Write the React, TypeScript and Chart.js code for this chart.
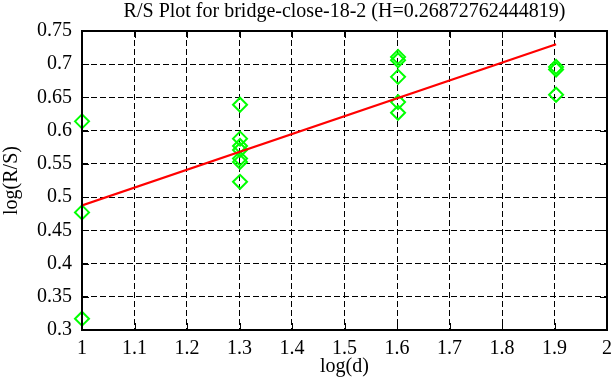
import React, { useEffect, useRef } from "react";
import { Chart, registerables } from "chart.js";

Chart.register(...registerables);

const titleText = "R/S Plot for bridge-close-18-2 (H=0.26872762444819)";
const xAxisLabel = "log(d)";
const yAxisLabel = "log(R/S)";

// log10(d) for d = 10, 20, 40, 80 and the matching log(R/S) samples
const pointsX = [
  1, 1, 1,
  1.301, 1.301, 1.301, 1.301, 1.301, 1.301, 1.301,
  1.602, 1.602, 1.602, 1.602, 1.602,
  1.903, 1.903, 1.903,
];
const pointsY = [
  0.614, 0.477, 0.317,
  0.639, 0.588, 0.577, 0.571, 0.558, 0.553, 0.523,
  0.711, 0.706, 0.681, 0.643, 0.627,
  0.696, 0.692, 0.654,
];

// fitted line endpoints
const fitX = [1, 1.903];
const fitY = [0.4875, 0.7301];

const xTicks = [1, 1.1, 1.2, 1.3, 1.4, 1.5, 1.6, 1.7, 1.8, 1.9, 2];
const yTicks = [0.3, 0.35, 0.4, 0.45, 0.5, 0.55, 0.6, 0.65, 0.7, 0.75];

const FONT = "'Liberation Serif', 'Times New Roman', serif";

const framePlugin = {
  id: "frame",
  afterDraw(chart: any) {
    const { ctx, chartArea } = chart;
    const { left, right, top, bottom } = chartArea;
    const xs = chart.scales.x;
    const ys = chart.scales.y;
    const tl = 7;
    ctx.save();
    ctx.strokeStyle = "#000";
    ctx.lineWidth = 1;
    ctx.setLineDash([]);
    ctx.beginPath();
    for (const v of xTicks) {
      const px = Math.round(xs.getPixelForValue(v)) + 0.5;
      ctx.moveTo(px, bottom);
      ctx.lineTo(px, bottom - tl);
      ctx.moveTo(px, top);
      ctx.lineTo(px, top + tl);
    }
    for (const v of yTicks) {
      const py = Math.round(ys.getPixelForValue(v)) + 0.5;
      ctx.moveTo(left, py);
      ctx.lineTo(left + tl, py);
      ctx.moveTo(right, py);
      ctx.lineTo(right - tl, py);
    }
    ctx.stroke();
    ctx.lineWidth = 2;
    ctx.strokeRect(left, top, right - left, bottom - top);
    ctx.restore();
  },
};

export default function App() {
  const ref = useRef<HTMLCanvasElement | null>(null);

  useEffect(() => {
    let chart: any = null;
    let cancelled = false;
    const build = () => {
      if (cancelled || !ref.current) return;
      chart = new Chart(ref.current, {
        type: "scatter",
        data: {
          datasets: [
            {
              label: "samples",
              data: pointsX.map((x, i) => ({ x, y: pointsY[i] })),
              pointStyle: "rectRot",
              pointRadius: 7,
              pointBorderWidth: 2,
              borderColor: "#00ff00",
              backgroundColor: "rgba(0,0,0,0)",
              showLine: false,
              clip: false,
              order: 2,
            },
            {
              label: "fit",
              data: fitX.map((x, i) => ({ x, y: fitY[i] })),
              showLine: true,
              borderColor: "#ff0000",
              borderWidth: 2.2,
              pointRadius: 0,
              order: 1,
            },
          ],
        },
        options: {
          animation: false,
          responsive: true,
          maintainAspectRatio: false,
          layout: { padding: { top: 0, right: 0, bottom: 0, left: 0 } },
          plugins: {
            legend: { display: false },
            tooltip: { enabled: false },
            title: {
              display: true,
              fullSize: false,
              text: titleText,
              color: "#000",
              font: { family: FONT, size: 20, weight: "normal", lineHeight: 1.2 },
              padding: { top: 0, bottom: 7 },
            },
          },
          scales: {
            x: {
              type: "linear",
              min: 1,
              max: 2,
              afterFit: (s: any) => {
                s.height = 57;
                s.paddingRight = 6;
              },
              afterBuildTicks: (s: any) => {
                s.ticks = xTicks.map((v) => ({ value: v }));
              },
              ticks: {
                color: "#000",
                font: { family: FONT, size: 20 },
                padding: 7,
                maxRotation: 0,
                autoSkip: false,
                callback: (v: any) => String(+Number(v).toFixed(2)),
              },
              grid: {
                color: "#000",
                lineWidth: 1,
                drawTicks: false,
              },
              border: { display: false, dash: [6, 3] },
              title: {
                display: true,
                text: xAxisLabel,
                color: "#000",
                font: { family: FONT, size: 20, lineHeight: 1.2 },
                padding: { top: 0, bottom: 8 },
              },
            },
            y: {
              type: "linear",
              min: 0.3,
              max: 0.75,
              afterFit: (s: any) => {
                s.width = 82;
              },
              afterBuildTicks: (s: any) => {
                s.ticks = yTicks.map((v) => ({ value: v }));
              },
              ticks: {
                color: "#000",
                font: { family: FONT, size: 20 },
                padding: 10,
                autoSkip: false,
                callback: (v: any) => String(+Number(v).toFixed(2)),
              },
              grid: {
                color: "#000",
                lineWidth: 1,
                drawTicks: false,
              },
              border: { display: false, dash: [6, 3] },
              title: {
                display: true,
                text: yAxisLabel,
                color: "#000",
                font: { family: FONT, size: 20, lineHeight: 1.2 },
                padding: { top: 0, bottom: 0 },
              },
            },
          },
        },
        plugins: [framePlugin],
      });
    };
    const fonts: any = (document as any).fonts;
    if (fonts && fonts.load) {
      fonts.load("20px 'Liberation Serif'").then(build, build);
    } else {
      build();
    }
    return () => {
      cancelled = true;
      if (chart) chart.destroy();
    };
  }, []);

  return (
    <div style={{ position: "absolute", left: 0, top: 0, width: 616, height: 387, background: "#fff" }}>
      <canvas ref={ref} />
    </div>
  );
}
